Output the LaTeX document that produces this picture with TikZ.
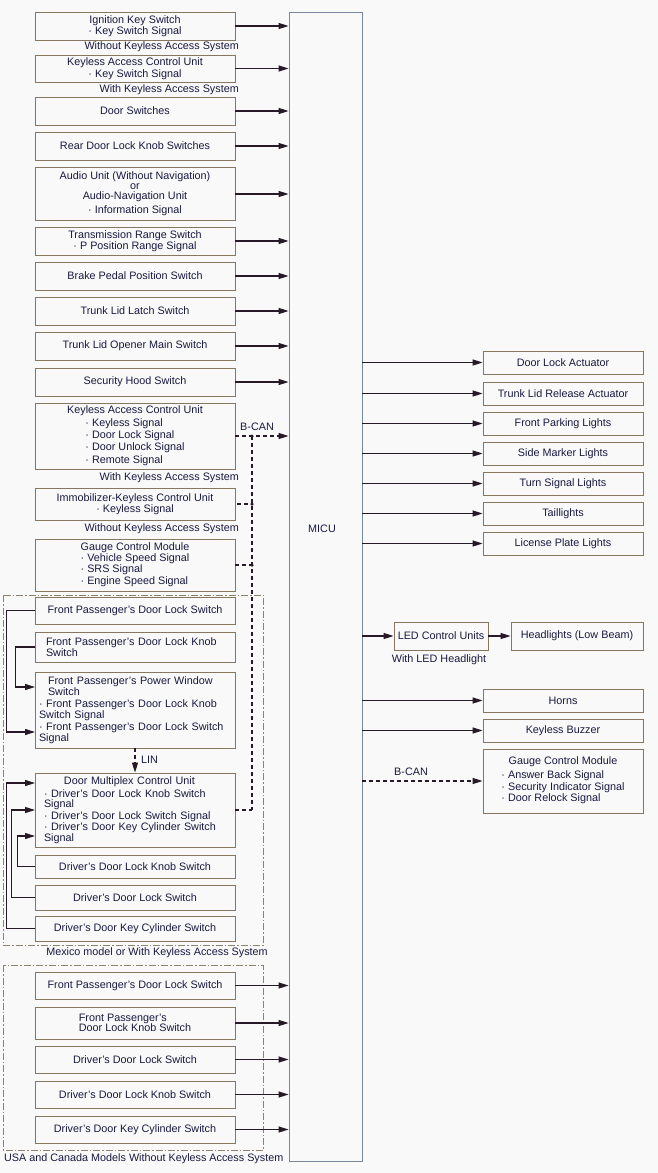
\documentclass[tikz,border=0pt]{standalone}
\usepackage{fontspec}
\setmainfont{Liberation Sans}
\usetikzlibrary{arrows.meta}
\definecolor{bg}{RGB}{249,249,249}
\definecolor{boxc}{RGB}{135,118,96}
\definecolor{micuc}{RGB}{120,135,155}
\definecolor{linec}{RGB}{40,25,40}
\definecolor{txtc}{RGB}{25,25,65}
\definecolor{grpc}{RGB}{140,130,110}
\begin{document}
\begin{tikzpicture}[x=1pt,y=-1pt,
 every node/.style={font=\fontsize{10.8}{11.5}\selectfont, text=txtc, inner sep=1pt},
 box/.style={draw=boxc, line width=0.8pt, fill=bg, minimum width=200pt, align=center},
 rbox/.style={box, minimum width=160pt, minimum height=23pt},
 tight/.style={font=\fontsize{10.8}{10.5}\selectfont},
 arr/.style={draw=linec, line width=1.1pt, -{Triangle[length=10pt,width=6pt]}},
 bcan/.style={draw=linec, line width=1.1pt, dash pattern=on 4pt off 3pt},
 grp/.style={draw=grpc, line width=0.8pt, dash pattern=on 7pt off 2pt on 1.5pt off 2pt},
 dot/.style={circle, fill=linec, inner sep=0pt, minimum size=3.5pt}
]
\fill[bg] (0,0) rectangle (658,1173);
\useasboundingbox (0,0) rectangle (658,1173);

% group frames
\draw[grp] (3,595) rectangle (263,945);
\draw[grp] (3,965) rectangle (263,1150);

% MICU
\node[draw=micuc, line width=0.8pt, fill=bg, minimum width=73pt, minimum height=1149pt, inner sep=0pt] (micu) at (325.5,586.5) {};
\node (micut) at (322,529) {MICU};

% left inputs
\node[box, minimum height=28pt] (ign) at (135,26) {Ignition Key Switch\\· Key Switch Signal};
\node[anchor=east] (n1) at (240,46.5) {Without Keyless Access System};
\node[box, minimum height=27pt] (kac1) at (135,68.5) {Keyless Access Control Unit\\· Key Switch Signal};
\node[anchor=east] (n2) at (240,90) {With Keyless Access System};
\node[box, minimum height=28pt] (ds) at (135,111) {Door Switches};
\node[box, minimum height=28pt] (rdl) at (135,146) {Rear Door Lock Knob Switches};
\node[box, minimum height=53pt] (aud) at (135,194) {Audio Unit (Without Navigation)\\[-1.5pt]or\\[-1.5pt]Audio-Navigation Unit\\[2.5pt]· Information Signal};
\node[box, minimum height=28pt] (trs) at (135,241) {Transmission Range Switch\\· P Position Range Signal};
\node[box, minimum height=28pt] (bpp) at (135,276) {Brake Pedal Position Switch};
\node[box, minimum height=28pt] (tll) at (135,311) {Trunk Lid Latch Switch};
\node[box, minimum height=28pt] (tlo) at (135,346) {Trunk Lid Opener Main Switch};
\node[box, minimum height=28pt] (shs) at (135,382) {Security Hood Switch};
\node[box, minimum height=66pt] (kac2) at (135,436) {Keyless Access Control Unit\\[2pt]\renewcommand{\arraystretch}{1.05}\begin{tabular}{@{}l@{}}· Keyless Signal\\· Door Lock Signal\\· Door Unlock Signal\\· Remote Signal\end{tabular}};
\node[anchor=east] (n3) at (240,478) {With Keyless Access System};
\node[box, minimum height=32pt] (imm) at (135,504) {Immobilizer-Keyless Control Unit\\· Keyless Signal};
\node[anchor=east] (n4) at (240,529) {Without Keyless Access System};
\node[box, minimum height=52pt] (gcm1) at (135,565) {Gauge Control Module\\\begin{tabular}{@{}l@{}}· Vehicle Speed Signal\\· SRS Signal\\· Engine Speed Signal\end{tabular}};

% Mexico group
\node[box, minimum height=27pt] (p1) at (135,610.5) {Front Passenger's Door Lock Switch};
\node[box, tight, minimum height=30pt, text width=178pt, align=left] (p2) at (135,647) {Front Passenger's Door Lock Knob\\Switch};
\node[box, tight, minimum height=76pt, text width=192pt, align=left] (p3) at (135,710) {\hspace*{9pt}Front Passenger's Power Window\\\hspace*{9pt}Switch\\[2pt]· Front Passenger's Door Lock Knob\\Switch Signal\\[2pt]· Front Passenger's Door Lock Switch\\Signal};
\node[box, tight, minimum height=74pt, text width=182pt, align=left] (dm) at (135,810) {\hspace*{20pt}Door Multiplex Control Unit\\[2pt]· Driver's Door Lock Knob Switch\\Signal\\[1pt]· Driver's Door Lock Switch Signal\\[1pt]· Driver's Door Key Cylinder Switch\\Signal};
\node[box, minimum height=23pt] (d1) at (135,866.5) {Driver's Door Lock Knob Switch};
\node[box, minimum height=25pt] (d2) at (135,897.5) {Driver's Door Lock Switch};
\node[box, minimum height=25pt] (d3) at (135,928.5) {Driver's Door Key Cylinder Switch};
\node (mexl) at (157,953) {Mexico model or With Keyless Access System};

% USA group
\node[box, minimum height=27pt] (u1) at (135,985.5) {Front Passenger's Door Lock Switch};
\node[box, tight, minimum height=32pt, align=left] (u2) at (135,1023) {Front Passenger's\\Door Lock Knob Switch};
\node[box, minimum height=27pt] (u3) at (135,1059.5) {Driver's Door Lock Switch};
\node[box, minimum height=27pt] (u4) at (135,1094.5) {Driver's Door Lock Knob Switch};
\node[box, minimum height=27pt] (u5) at (135,1129.5) {Driver's Door Key Cylinder Switch};
\node[anchor=west] (usal) at (3,1159) {USA and Canada Models Without Keyless Access System};

% right outputs
\node[rbox] (dla) at (563,362.5) {Door Lock Actuator};
\node[rbox] (tlr) at (563,393.5) {Trunk Lid Release Actuator};
\node[rbox] (fpl) at (563,423.5) {Front Parking Lights};
\node[rbox] (sml) at (563,453.5) {Side Marker Lights};
\node[rbox] (tsl) at (563,483.5) {Turn Signal Lights};
\node[rbox] (tail) at (563,513.5) {Taillights};
\node[rbox] (lpl) at (563,543.5) {License Plate Lights};
\node[box, minimum width=94pt, minimum height=28pt] (led) at (441,636) {LED Control Units};
\node[box, minimum width=132pt, minimum height=28pt] (hl) at (577,636) {Headlights (Low Beam)};
\node (ledn) at (439,660) {With LED Headlight};
\node[rbox] (horn) at (563,700.5) {Horns};
\node[rbox] (kbz) at (563,730.5) {Keyless Buzzer};
\node[box, minimum width=160pt, minimum height=64pt] (gcm2) at (563,781) {Gauge Control Module\\[3pt]\begin{tabular}{@{}l@{}}· Answer Back Signal\\· Security Indicator Signal\\· Door Relock Signal\end{tabular}};

% input arrows
\foreach \n in {ign,kac1,ds,rdl,aud,trs,bpp,tll,tlo,shs,u1,u2,u3,u4,u5}
  \draw[arr] (\n) -- (\n -| micu.west);
% output arrows
\foreach \n in {dla,tlr,fpl,sml,tsl,tail,lpl,led,horn,kbz}
  \draw[arr] (micu.east |- \n) -- (\n);
\draw[arr] (led) -- (hl);

% B-CAN left
\coordinate (j1) at (252,436);
\coordinate (j4) at (252,810);
\draw[arr, bcan] (kac2) -- (kac2 -| micu.west);
\node (bcl) at (257,427) {B-CAN};
\draw[bcan] (j1) -- (j4);
\draw[bcan] ([xshift=2pt]imm.east) -- (imm.east -| j1);
\draw[bcan] (gcm1.east) -- (gcm1.east -| j1);
\draw[bcan] (dm.east) -- (j4);
\node[dot] (dt1) at (j1) {};
\node[dot] (dt2) at (imm.east -| j1) {};
\node[dot] (dt3) at (gcm1.east -| j1) {};

% B-CAN right
\draw[arr, bcan] (micu.east |- gcm2) -- (gcm2);
\node (bcr) at (411,772) {B-CAN};

% LIN
\draw[arr, bcan] (p3) -- (dm);
\node[anchor=west] (lin) at (140,760) {LIN};

% Mexico local connectors
\coordinate (p3a) at (35,687);
\coordinate (p3b) at (35,732);
\draw[arr] (p1.west) -- ++(-28,0) |- (p3b);
\draw[arr] (p2.west) -- ++(-19,0) |- (p3a);
\coordinate (dma) at (35,783);
\coordinate (dmb) at (35,810);
\coordinate (dmc) at (35,836);
\draw[arr] (d3.west) -- ++(-28,0) |- (dma);
\draw[arr] (d2.west) -- ++(-23,0) |- (dmb);
\draw[arr] (d1.west) -- ++(-17,0) |- (dmc);
\end{tikzpicture}
\end{document}
